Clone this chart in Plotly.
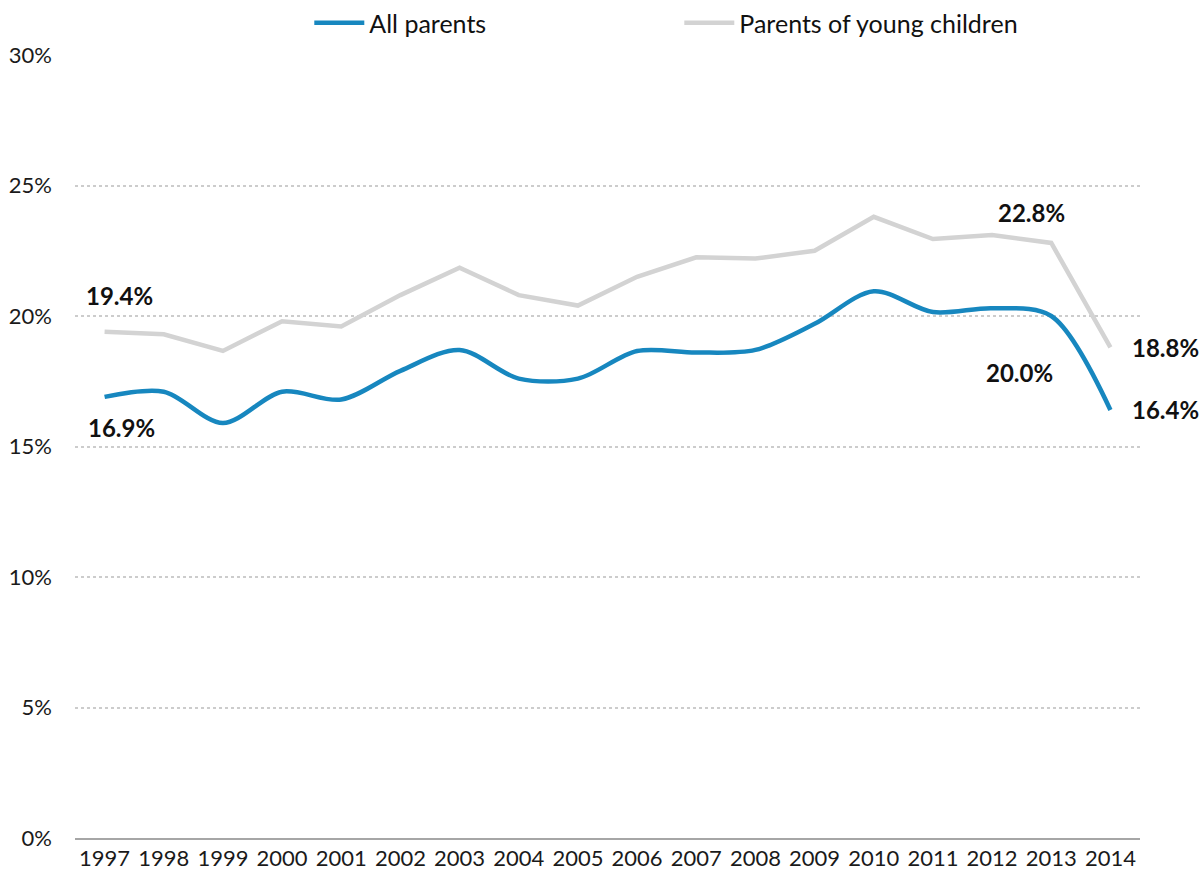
import plotly.graph_objects as go

years = [str(y) for y in range(1997, 2015)]
all_parents = [16.9, 17.1, 15.9, 17.1, 16.8, 17.9, 18.7, 17.6, 17.6, 18.66,
               18.6, 18.7, 19.7, 20.95, 20.15, 20.3, 20.0, 16.4]
young_children = [19.4, 19.3, 18.66, 19.8, 19.6, 20.8, 21.85, 20.8, 20.4, 21.5,
                  22.25, 22.2, 22.5, 23.8, 22.95, 23.1, 22.8, 18.8]
y_ticks = [0, 5, 10, 15, 20, 25, 30]
y_tick_labels = ["0%", "5%", "10%", "15%", "20%", "25%", "30%"]

BLUE = "#1787bf"
GREY = "#d3d3d3"
FONT = "Lato, 'Open Sans', sans-serif"

fig = go.Figure()
fig.add_trace(go.Scatter(
    x=years, y=all_parents, name="All parents", mode="lines",
    line=dict(color=BLUE, width=4.5, shape="spline", smoothing=0.9),
))
fig.add_trace(go.Scatter(
    x=years, y=young_children, name="Parents of young children", mode="lines",
    line=dict(color=GREY, width=4.5),
))

# value callouts at the first and last points (x given as category index)
first, prev, last = 0, len(years) - 2, len(years) - 1
labels = [
    (first, young_children[first], 15, 36, "center"),
    (first, all_parents[first], 17, -31, "center"),
    (prev, young_children[prev], -20, 30, "center"),
    (prev, all_parents[prev], -32, -56, "center"),
    (last, young_children[last], 20, 0, "left"),
    (last, all_parents[last], 20, 0, "left"),
]
for x, y, dx, dy, anchor in labels:
    fig.add_annotation(
        x=x, y=y, text=f"<b>{y:.1f}%</b>", showarrow=False,
        xshift=dx, yshift=dy, xanchor=anchor, yanchor="middle",
        font=dict(family=FONT, size=24, color="#111111"),
    )

fig.update_layout(
    width=1200, height=877,
    margin=dict(l=75, r=60, t=55, b=39, autoexpand=False),
    paper_bgcolor="white", plot_bgcolor="white",
    font=dict(family=FONT, size=22, color="#1a1a1a"),
    showlegend=True,
    legend=dict(
        orientation="h", x=0.22, xanchor="left", y=1.0, yanchor="top",
        yref="container", entrywidth=305, entrywidthmode="pixels",
        font=dict(family=FONT, size=25, color="#111111"),
        bgcolor="rgba(0,0,0,0)", itemwidth=50,
    ),
    xaxis=dict(
        type="category", range=[-0.5, len(years) - 0.5], showgrid=False,
        showline=True, linecolor="#a6a6a6", linewidth=2, ticks="",
        automargin=False,
        tickfont=dict(family=FONT, size=22, color="#1a1a1a"),
    ),
    yaxis=dict(
        range=[0, 30], tickvals=y_ticks, ticktext=y_tick_labels,
        showgrid=True, gridcolor="#cccccc", gridwidth=2, griddash="dot",
        zeroline=False, showline=False, ticks="", automargin=False,
        ticklabelstandoff=22,
        tickfont=dict(family=FONT, size=22, color="#1a1a1a"),
    ),
)

fig.write_html("out.html")
